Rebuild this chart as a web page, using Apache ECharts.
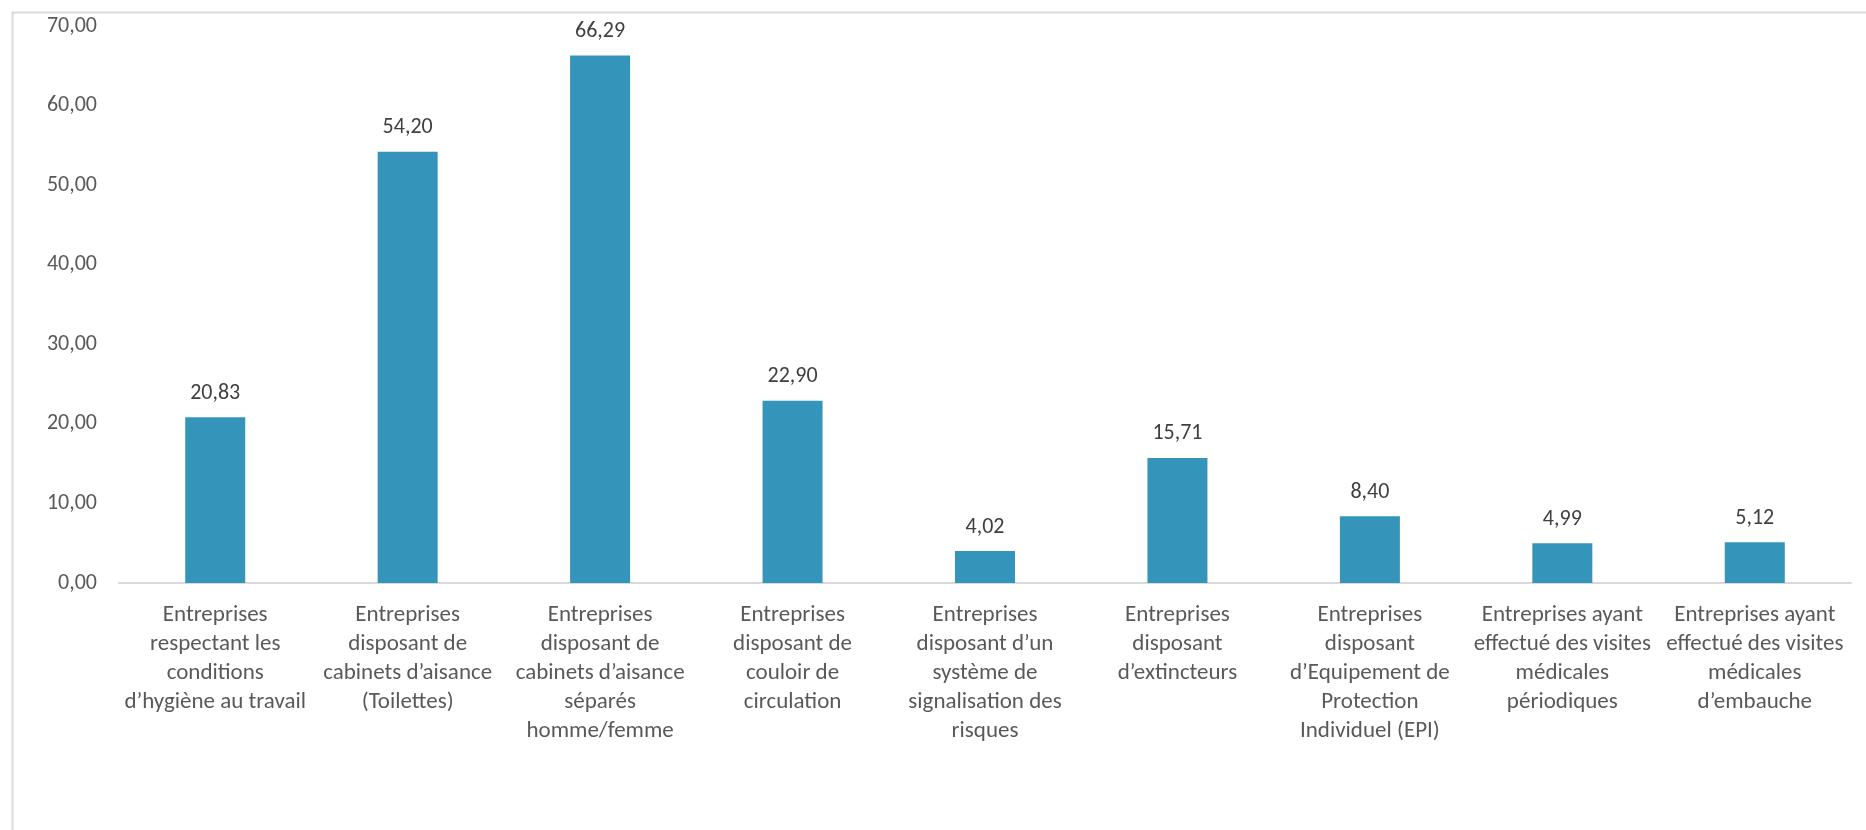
<!DOCTYPE html>
<html>
<head>
<meta charset="utf-8">
<title>Entreprises - conditions de travail</title>
<script src="https://cdn.jsdelivr.net/npm/echarts@6/dist/echarts.min.js"></script>
<style>
  html, body { margin: 0; padding: 0; background: #fff; }
  #chart { width: 1866px; height: 830px; }
</style>
</head>
<body>
<div id="chart"></div>
<script>
// categories, line breaks as in the original
const categories = [
  "Entreprises\nrespectant les\nconditions\nd\u2019hygi\u00e8ne au travail",
  "Entreprises\ndisposant de\ncabinets d\u2019aisance\n(Toilettes)",
  "Entreprises\ndisposant de\ncabinets d\u2019aisance\ns\u00e9par\u00e9s\nhomme/femme",
  "Entreprises\ndisposant de\ncouloir de\ncirculation",
  "Entreprises\ndisposant d\u2019un\nsyst\u00e8me de\nsignalisation des\nrisques",
  "Entreprises\ndisposant\nd\u2019extincteurs",
  "Entreprises\ndisposant\nd\u2019Equipement de\nProtection\nIndividuel (EPI)",
  "Entreprises ayant\neffectu\u00e9 des visites\nm\u00e9dicales\np\u00e9riodiques",
  "Entreprises ayant\neffectu\u00e9 des visites\nm\u00e9dicales\nd\u2019embauche"
];
const values = [20.83, 54.20, 66.29, 22.90, 4.02, 15.71, 8.40, 4.99, 5.12];
const yTicks = [0, 10, 20, 30, 40, 50, 60, 70];

const fontFamily = "Carlito, Lato, 'Open Sans', sans-serif";
const fmt = v => v.toFixed(2).replace(".", ",");

const chart = echarts.init(document.getElementById("chart"));
chart.setOption({
  animation: false,
  textStyle: { fontFamily: fontFamily },
  graphic: [{
    type: "rect",
    silent: true,
    shape: { x: 12.5, y: 12.5, width: 1900, height: 900 },
    style: { fill: "none", stroke: "#d9d9d9", lineWidth: 2 }
  }],
  grid: {
    left: 119,
    right: 15,
    top: 26,
    bottom: 247
  },
  xAxis: {
    type: "category",
    data: categories,
    axisTick: { show: false },
    axisLine: { lineStyle: { color: "#d9d9d9", width: 2 } },
    axisLabel: {
      interval: 0,
      margin: 18,
      color: "#595959",
      fontSize: 23,
      lineHeight: 29,
      align: "center"
    }
  },
  yAxis: {
    type: "value",
    min: yTicks[0],
    max: yTicks[yTicks.length - 1],
    interval: 10,
    splitLine: { show: false },
    axisLine: { show: false },
    axisTick: { show: false },
    axisLabel: {
      margin: 22,
      color: "#595959",
      fontSize: 22,
      formatter: v => fmt(v)
    }
  },
  series: [{
    type: "bar",
    data: values,
    barWidth: 60,
    itemStyle: { color: "#3494ba" },
    label: {
      show: true,
      position: "top",
      distance: 13,
      color: "#404040",
      fontSize: 22,
      formatter: p => fmt(p.value)
    }
  }]
});
</script>
</body>
</html>
